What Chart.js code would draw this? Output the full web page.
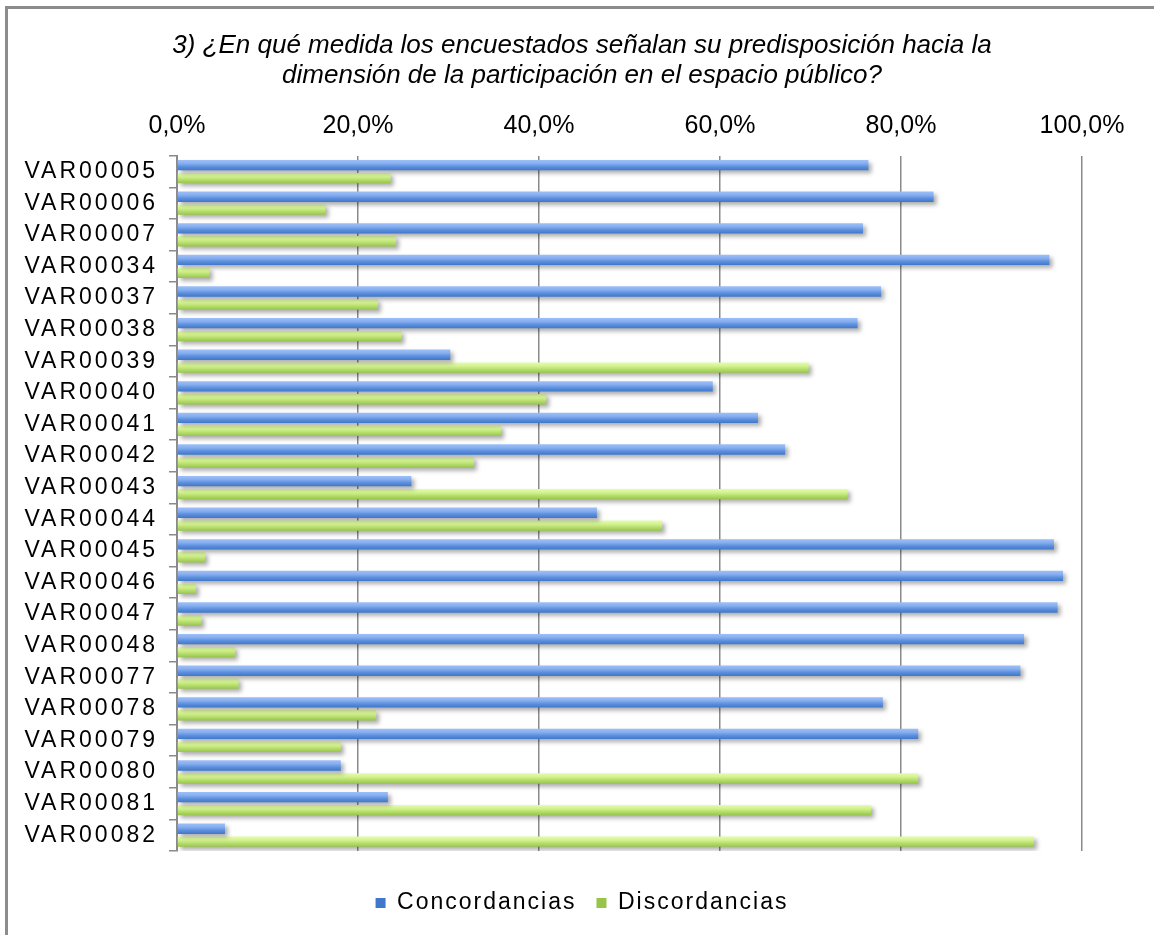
<!DOCTYPE html>
<html lang="es">
<head>
<meta charset="utf-8">
<title>Predisposición hacia la participación en el espacio público</title>
<script src="https://cdn.jsdelivr.net/npm/chart.js@4.4.1/dist/chart.umd.min.js"></script>
<style>
  html, body { margin: 0; padding: 0; background: #fff; }
  #wrap { position: relative; width: 1154px; height: 935px; overflow: hidden; }
  #grafico { position: absolute; left: 0; top: 0; }
  #marco { position: absolute; left: 5px; top: 6px; right: 0; bottom: 0;
           border-top: 3px solid #8c8c8c; border-left: 3px solid #8c8c8c; pointer-events: none; }
</style>
</head>
<body>
<div id="wrap">
  <canvas id="grafico" width="1154" height="935"></canvas>
  <div id="marco"></div>
</div>
<script>
// datos de la pregunta 3 (porcentajes)
const variables = [
  "VAR00005", "VAR00006", "VAR00007", "VAR00034", "VAR00037", "VAR00038",
  "VAR00039", "VAR00040", "VAR00041", "VAR00042", "VAR00043", "VAR00044",
  "VAR00045", "VAR00046", "VAR00047", "VAR00048", "VAR00077", "VAR00078",
  "VAR00079", "VAR00080", "VAR00081", "VAR00082"
];
const concordancias = [
  76.4, 83.6, 75.8, 96.4, 77.8, 75.2, 30.2, 59.2, 64.2, 67.2, 25.9,
  46.4, 96.9, 97.9, 97.3, 93.6, 93.2, 78.0, 81.9, 18.1, 23.3, 5.3
];
const discordancias = [
  23.6, 16.4, 24.2, 3.6, 22.2, 24.8, 69.8, 40.8, 35.8, 32.8, 74.1,
  53.6, 3.1, 2.1, 2.7, 6.4, 6.8, 22.0, 18.1, 81.9, 76.7, 94.7
];
const ticksX = [0, 20, 40, 60, 80, 100];
const titulo = [
  "3) ¿En qué medida los encuestados señalan su predisposición hacia la",
  "dimensión de la participación en el espacio público?"
];

const FUENTE = "'Liberation Sans', Arial, sans-serif";
const CAT_PCT = 0.82;
const BAR_PCT = 0.8;
const GRIS = "#8a8a8a";

// degradado vertical de cada barra, calculado con la escala de categorías
function relleno(stops) {
  return (ctx) => {
    const chart = ctx.chart;
    const y = chart.scales.y;
    const plano = stops[2][1];
    if (!y || ctx.dataIndex === undefined) return plano;
    const centro = y.getPixelForValue(ctx.dataIndex);
    const hueco = (y.bottom - y.top) / variables.length * CAT_PCT / 2;
    if (!Number.isFinite(centro) || !Number.isFinite(hueco)) return plano;
    const arriba = centro - hueco + ctx.datasetIndex * hueco + hueco * (1 - BAR_PCT) / 2;
    const g = chart.ctx.createLinearGradient(0, arriba, 0, arriba + hueco * BAR_PCT);
    stops.forEach(([p, c]) => g.addColorStop(p, c));
    return g;
  };
}

const azul = [[0, "#9dc0f8"], [0.35, "#86adef"], [0.65, "#5c90dd"], [1, "#4077ca"]];
const verde = [[0, "#e4fdab"], [0.35, "#d2f28e"], [0.65, "#b6de6e"], [1, "#98c44a"]];

// sombra de las barras y espaciado de las etiquetas del eje Y
const efectos = {
  id: "efectos",
  beforeDraw(chart) { chart.ctx.letterSpacing = "0px"; },
  beforeDatasetsDraw(chart) {
    const c = chart.ctx;
    c.save();
    c.shadowColor = "rgba(0,0,0,0.32)";
    c.shadowBlur = 4;
    c.shadowOffsetX = 3;
    c.shadowOffsetY = 3;
  },
  afterDatasetsDraw(chart) {
    chart.ctx.restore();
    chart.ctx.letterSpacing = "3px";
  },
  afterDraw(chart) { chart.ctx.letterSpacing = "0px"; }
};

const grafico = new Chart(document.getElementById("grafico"), {
  type: "bar",
  data: {
    labels: variables,
    datasets: [{
      label: "Concordancias",
      data: concordancias,
      backgroundColor: relleno(azul),
      borderWidth: 0
    }, {
      label: "Discordancias",
      data: discordancias,
      backgroundColor: relleno(verde),
      borderWidth: 0
    }]
  },
  options: {
    indexAxis: "y",
    responsive: false,
    animation: false,
    categoryPercentage: CAT_PCT,
    barPercentage: BAR_PCT,
    layout: { padding: { left: 10, right: 0, top: 10, bottom: 10.5 } },
    scales: {
      x: {
        position: "top",
        min: 0,
        max: 100,
        afterBuildTicks: (s) => { s.ticks = ticksX.map(v => ({ value: v })); },
        afterFit: (s) => { s.paddingRight = 72; },
        ticks: {
          padding: 15,
          color: "#000",
          font: { family: FUENTE, size: 25 },
          callback: (v) => v.toFixed(1).replace(".", ",") + "%"
        },
        grid: { color: GRIS, lineWidth: 1.5, drawTicks: false },
        border: { display: false }
      },
      y: {
        afterFit: (s) => { s.width = 167; },
        ticks: {
          z: 1,
          padding: 11,
          color: "#000",
          autoSkip: false,
          font: { family: FUENTE, size: 23 }
        },
        grid: { drawOnChartArea: false, tickLength: 8, color: GRIS, lineWidth: 1.5 },
        border: { display: true, color: GRIS, width: 2 }
      }
    },
    plugins: {
      title: {
        display: true,
        text: titulo,
        color: "#000",
        font: { family: FUENTE, size: 26, style: "italic", weight: "normal", lineHeight: 1.15 },
        padding: { top: 21, bottom: 5 }
      },
      legend: {
        position: "bottom",
        title: { display: true, text: "", font: { size: 10, lineHeight: 1 }, padding: { top: 10.5, bottom: 0 } },
        labels: {
          boxWidth: 10,
          boxHeight: 10,
          padding: 20,
          color: "#000",
          font: { family: FUENTE, size: 23 }
        }
      },
      tooltip: { enabled: false }
    }
  },
  plugins: [efectos]
});

// la leyenda se mide y se dibuja con el mismo espaciado entre letras
const leyenda = grafico.legend;
const medirLeyenda = leyenda.fit.bind(leyenda);
const dibujarLeyenda = leyenda.draw.bind(leyenda);
leyenda.fit = function () {
  const c = grafico.ctx;
  c.save();
  c.letterSpacing = "2px";
  medirLeyenda();
  c.restore();
};
leyenda.draw = function (area) {
  const c = grafico.ctx;
  c.save();
  c.letterSpacing = "2px";
  dibujarLeyenda(area);
  c.restore();
};

// segunda pasada para que los degradados usen la escala ya medida
grafico.update();
</script>
</body>
</html>
